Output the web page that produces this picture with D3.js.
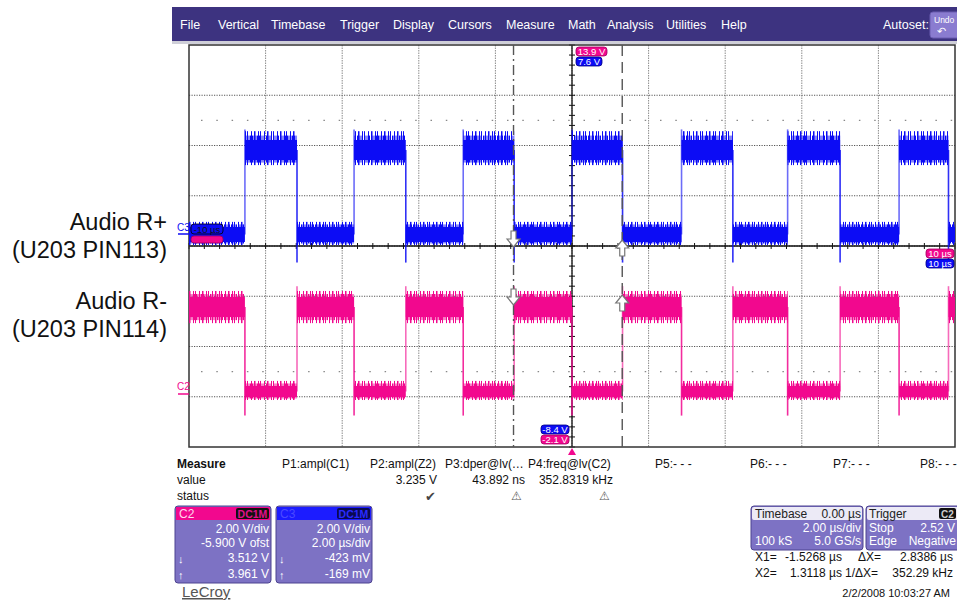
<!DOCTYPE html>
<html><head><meta charset="utf-8">
<script src="https://cdn.jsdelivr.net/npm/d3@7"></script>
<style>
body{margin:0;background:#fff;}
svg{display:block;font-family:"Liberation Sans",Arial,sans-serif;}
</style></head><body>
<svg id="c" width="957" height="601"></svg>
<script>
// ---------------- data ----------------
const menuItems = ["File","Vertical","Timebase","Trigger","Display","Cursors","Measure","Math","Analysis","Utilities","Help"];
const edgeTimes = [-8.54,-7.18,-5.69,-4.34,-2.84,-1.51,0,1.32,2.86,4.20,5.63,7.00,8.54,9.83]; // µs
const c3Levels = [-0.18, 3.18];            // V (low, high)
const c2Levels = [0.11, 3.47];             // V (low, high)
const c3Core = [0.3, 0.4];                 // ± V dense noise
const c2Core = [0.22, 0.4];
const c3Spike = [[-0.42, 0.5], [-0.6, 0.75]];   // spike envelope (V rel. level)
const c2Spike = [[-0.34, 0.42], [-0.64, 0.64]];
const c3Over = [4.0, -1.3];                // edge overshoot (rising, falling) V
const c2Over = [4.3, -0.85];
const c3Offset = -0.64, c2Offset = 5.9;    // V at screen centre
const voltsPerDiv = 2, usPerDiv = 2;
const cursorTimes = [-1.5268, 1.3118];
const measureNames = ["P1:ampl(C1)","P2:ampl(Z2)","P3:dper@lv(…","P4:freq@lv(C2)","P5:- - -","P6:- - -","P7:- - -","P8:- - -"];
const measureValues = ["","3.235 V","43.892 ns","352.8319 kHz","","","",""];
const measureStatus = ["","ok","warn","warn","","","",""];
const c2Box = ["2.00 V/div","-5.900 V ofst","3.512 V","3.961 V"];
const c3Box = ["2.00 V/div","2.00 µs/div","-423 mV","-169 mV"];
const labelsLeft = [["Audio R+","(U203 PIN113)"],["Audio R-","(U203 PIN114)"]];

// ---------------- setup ----------------
const svg = d3.select("#c");
const P = {x0:189, x1:955, y0:45, y1:447};
const x = d3.scaleLinear().domain([-5*usPerDiv, 5*usPerDiv]).range([P.x0, P.x1]);
const yDiv = d3.scaleLinear().domain([-4,4]).range([P.y1, P.y0]);
const yC3 = d3.scaleLinear().domain([c3Offset-4*voltsPerDiv, c3Offset+4*voltsPerDiv]).range([P.y1, P.y0]);
const yC2 = d3.scaleLinear().domain([c2Offset-4*voltsPerDiv, c2Offset+4*voltsPerDiv]).range([P.y1, P.y0]);
const BLUE = "#0c0cf5", PINK = "#f2088e";

const defs = svg.append("defs");
function patterns(id, color){
  const s = defs.append("pattern").attr("id",id+"s").attr("patternUnits","userSpaceOnUse").attr("width",13).attr("height",4);
  [[0,1],[4,1],[7,1.5],[11,1]].forEach(d=>s.append("rect").attr("x",d[0]).attr("y",0).attr("width",d[1]).attr("height",4).attr("fill",color));
  const m = defs.append("pattern").attr("id",id+"m").attr("patternUnits","userSpaceOnUse").attr("width",7).attr("height",4);
  [[0,1.5],[2.5,1],[4.5,1.5]].forEach(d=>m.append("rect").attr("x",d[0]).attr("y",0).attr("width",d[1]).attr("height",4).attr("fill",color));
}
patterns("pb", BLUE); patterns("pp", PINK);

// ---------------- menu bar ----------------
svg.append("rect").attr("x",172).attr("y",7).attr("width",785).attr("height",34).attr("fill","#3d3380");
svg.append("rect").attr("x",172).attr("y",41).attr("width",785).attr("height",3).attr("fill","#cfcfd8");
const menuX = [180,218,271,340,393,448,506,568,607,666,721];
svg.selectAll("text.menu").data(menuItems).enter().append("text")
  .attr("x",(d,i)=>menuX[i]).attr("y",29).attr("fill","#fff").attr("font-size",12.5).text(d=>d);
svg.append("text").attr("x",883).attr("y",29).attr("fill","#fff").attr("font-size",12.5).text("Autoset:");
svg.append("rect").attr("x",930).attr("y",12).attr("width",30).attr("height",26).attr("rx",3).attr("fill","#8a7cd0").attr("stroke","#6a5cb0");
svg.append("text").attr("x",934).attr("y",23).attr("fill","#fff").attr("font-size",8.5).text("Undo");
svg.append("text").attr("x",937).attr("y",35).attr("fill","#fff").attr("font-size",11).text("↶");

// ---------------- left labels ----------------
labelsLeft.forEach((pair,i)=>{
  const base = [230,309][i];
  pair.forEach((t,j)=>svg.append("text").attr("x",167).attr("y",base+j*28).attr("text-anchor","end")
    .attr("font-size",23.5).attr("fill","#111").text(t));
});

// ---------------- grid ----------------
const g = svg.append("g");
g.append("rect").attr("x",P.x0).attr("y",P.y0).attr("width",P.x1-P.x0).attr("height",P.y1-P.y0).attr("fill","#fff");
g.selectAll("line.vg").data(d3.range(-8,9,2)).enter().append("line")
  .attr("x1",d=>x(d)).attr("x2",d=>x(d)).attr("y1",P.y0).attr("y2",P.y1)
  .attr("stroke","#8c8c8c").attr("stroke-dasharray","1.5,1");
g.selectAll("line.hg").data(d3.range(-3,4,1)).enter().append("line")
  .attr("y1",d=>yDiv(d)).attr("y2",d=>yDiv(d)).attr("x1",P.x0).attr("x2",P.x1)
  .attr("stroke","#555").attr("stroke-dasharray","1.2,1.3");
// sparse dotted rows
[2.5,-2.5].forEach(d=>g.append("line").attr("x1",P.x0+12).attr("x2",P.x1).attr("y1",yDiv(d)).attr("y2",yDiv(d))
  .attr("stroke","#888").attr("stroke-width",1.3).attr("stroke-dasharray","1.5,13.8"));
// centre axes
g.append("line").attr("x1",P.x0).attr("x2",P.x1).attr("y1",yDiv(0)).attr("y2",yDiv(0)).attr("stroke","#111").attr("stroke-width",1.3);
g.append("line").attr("x1",x(0)).attr("x2",x(0)).attr("y1",P.y0).attr("y2",P.y1).attr("stroke","#111").attr("stroke-width",1.3);
g.selectAll("line.xt").data(d3.range(-10,10.01,0.4)).enter().append("line")
  .attr("x1",d=>x(d)).attr("x2",d=>x(d)).attr("y1",yDiv(0)-3).attr("y2",yDiv(0)+3).attr("stroke","#111");
g.selectAll("line.yt").data(d3.range(-4,4.01,0.2)).enter().append("line")
  .attr("y1",d=>yDiv(d)).attr("y2",d=>yDiv(d)).attr("x1",x(0)-3).attr("x2",x(0)+3).attr("stroke","#111");
g.append("rect").attr("x",P.x0).attr("y",P.y0).attr("width",P.x1-P.x0).attr("height",P.y1-P.y0)
  .attr("fill","none").attr("stroke","#333").attr("stroke-width",1.5);

// ---------------- traces ----------------
function drawTrace(yS, levels, core, spike, over, startHigh, color, pid){
  const tg = svg.append("g");
  const bounds = [x.domain()[0], ...edgeTimes, x.domain()[1]];
  for(let i=0;i<bounds.length-1;i++){
    const hi = (i%2===0) ? startHigh : !startHigh;
    const k = hi?1:0, v = levels[k];
    const xa = x(bounds[i]), xb = x(bounds[i+1]);
    const band = (lo,up,fill)=>tg.append("rect").attr("x",xa).attr("width",Math.max(0,xb-xa))
      .attr("y",yS(v+up)).attr("height",yS(v+lo)-yS(v+up)).attr("fill",fill);
    band(spike[k][0], spike[k][1], `url(#${pid}s)`);
    band((spike[k][0]-core[k])/2, (spike[k][1]+core[k])/2, `url(#${pid}m)`);
    band(-core[k], core[k], color);
  }
  edgeTimes.forEach((t,i)=>{
    const rising = (i%2===0) ? !startHigh : startHigh;
    const from = levels[rising?0:1], to = rising ? over[0] : over[1];
    tg.append("line").attr("x1",x(t)).attr("x2",x(t)).attr("y1",yS(from)).attr("y2",yS(to))
      .attr("stroke",color).attr("stroke-width",1.6).attr("opacity",rising?0.6:0.85);
  });
}
drawTrace(yC2, c2Levels, c2Core, c2Spike, c2Over, true, PINK, "pp");
drawTrace(yC3, c3Levels, c3Core, c3Spike, c3Over, false, BLUE, "pb");

// ---------------- cursors ----------------
const dashes = ["10,4,2,4","11,6"];
cursorTimes.forEach((t,i)=>{
  svg.append("line").attr("x1",x(t)).attr("x2",x(t)).attr("y1",P.y0).attr("y2",P.y1)
    .attr("stroke","#555").attr("stroke-width",1.4).attr("stroke-dasharray",dashes[i]);
});
function arrow(cx, tip, down){
  const s = down?1:-1;
  const pts = [[-2.5,-16],[2.5,-16],[2.5,-8],[6.5,-8],[0,0],[-6.5,-8],[-2.5,-8]].map(p=>[cx+p[0], tip+s*p[1]]);
  svg.append("path").attr("d","M"+pts.join("L")+"Z").attr("fill","#fff").attr("stroke","#777").attr("stroke-width",1.2);
}
arrow(x(cursorTimes[0]), 247, true);
arrow(x(cursorTimes[0]), 305, true);
arrow(x(cursorTimes[1]), 240, false);
arrow(x(cursorTimes[1]), 295, false);

// ---------------- on-screen badges ----------------
function badge(bx, by, w, h, fill, txt, tcol, stroke){
  svg.append("rect").attr("x",bx).attr("y",by).attr("width",w).attr("height",h).attr("rx",3)
    .attr("fill",fill).attr("stroke",stroke||"#222").attr("stroke-width",0.8);
  if(txt) svg.append("text").attr("x",bx+w/2).attr("y",by+h-1.5).attr("text-anchor","middle").attr("font-size",9.5)
    .attr("fill",tcol).text(txt);
}
badge(576,47,31,9,PINK,"13.9 V","#fff","#a00060");
badge(576,57,26,9,BLUE,"7.6 V","#fff","#000080");
badge(541,425,28,9,BLUE,"-8.4 V","#fff","#000080");
badge(541,435,28,9,PINK,"-2.1 V","#fff","#a00060");
badge(926,249,28,9,PINK,"10 µs","#fff","#a00060");
badge(926,259,28,9,BLUE,"10 µs","#fff","#000080");
badge(191,236,32,7,PINK,"","#fff","#a00060");
badge(191,224,32,10,BLUE,"-10 µs","#111","#000");
svg.append("text").attr("x",177).attr("y",231).attr("font-size",10).attr("fill",BLUE).text("C3");
svg.append("line").attr("x1",178).attr("x2",189).attr("y1",234).attr("y2",234).attr("stroke",BLUE).attr("stroke-width",1.5);
svg.append("text").attr("x",177).attr("y",390).attr("font-size",10).attr("fill",PINK).text("C2");
svg.append("line").attr("x1",178).attr("x2",189).attr("y1",394).attr("y2",394).attr("stroke",PINK).attr("stroke-width",1.5);
svg.append("path").attr("d",`M${x(0)},448L${x(0)+4},455L${x(0)-4},455Z`).attr("fill",PINK);

// ---------------- measure table ----------------
const mX = [282,370,445,528,655,750,833,920];
const mRight = [349,437,525,613];
svg.append("text").attr("x",177).attr("y",468).attr("font-size",12).attr("font-weight","bold").attr("fill","#111").text("Measure");
svg.append("text").attr("x",177).attr("y",484).attr("font-size",12).attr("fill","#111").text("value");
svg.append("text").attr("x",177).attr("y",500).attr("font-size",12).attr("fill","#111").text("status");
measureNames.forEach((n,i)=>svg.append("text").attr("x",mX[i]).attr("y",468).attr("font-size",12).attr("fill","#111").text(n));
measureValues.forEach((v,i)=>{ if(v) svg.append("text").attr("x",mRight[i]).attr("y",484).attr("text-anchor","end").attr("font-size",12).attr("fill","#111").text(v); });
measureStatus.forEach((s,i)=>{
  if(s==="ok") svg.append("text").attr("x",mRight[i]-7).attr("y",501).attr("text-anchor","middle").attr("font-size",13).attr("fill","#444").text("✔");
  if(s==="warn") svg.append("text").attr("x",mRight[i]-9).attr("y",500).attr("text-anchor","middle").attr("font-size",12).attr("fill","#555").text("⚠");
});

// ---------------- channel boxes ----------------
function chanBox(bx, head, name, badgeFill, badgeText, lines){
  svg.append("rect").attr("x",bx).attr("y",506).attr("width",96).attr("height",77).attr("rx",3)
    .attr("fill","#7d72c4").attr("stroke","#4d4390").attr("stroke-width",1);
  svg.append("rect").attr("x",bx+1).attr("y",507).attr("width",94).attr("height",13).attr("fill",head);
  svg.append("text").attr("x",bx+4).attr("y",518).attr("font-size",12).attr("fill",name).text(head===PINK?"C2":"C3");
  svg.append("rect").attr("x",bx+61).attr("y",508).attr("width",33).attr("height",11).attr("rx",2).attr("fill",badgeFill);
  svg.append("text").attr("x",bx+77.5).attr("y",517.5).attr("text-anchor","middle").attr("font-size",10.5).attr("font-weight","bold").attr("fill",badgeText).text("DC1M");
  const ys=[533,547,562,578];
  lines.forEach((t,i)=>svg.append("text").attr("x",bx+94).attr("y",ys[i]).attr("text-anchor","end").attr("font-size",12).attr("fill","#fff").text(t));
  svg.append("text").attr("x",bx+3).attr("y",563).attr("font-size",11).attr("fill","#fff").text("↓");
  svg.append("text").attr("x",bx+3).attr("y",579).attr("font-size",11).attr("fill","#fff").text("↑");
}
chanBox(175, PINK, "#ffd6ec", "#111", "#e0108a", c2Box);
chanBox(276, "#1c1cff", "#4a4aff", "#0a0a50", "#2a2aff", c3Box);
svg.append("text").attr("x",182).attr("y",597).attr("font-size",15).attr("fill","#555").attr("text-decoration","underline").text("LeCroy");

// ---------------- timebase / trigger ----------------
svg.append("rect").attr("x",751).attr("y",506).attr("width",112).attr("height",44).attr("rx",3).attr("fill","#7d72c4").attr("stroke","#4d4390");
svg.append("rect").attr("x",752).attr("y",507).attr("width",110).attr("height",13).attr("rx",2).attr("fill","#eceaf6");
svg.append("rect").attr("x",866).attr("y",506).attr("width",95).attr("height",44).attr("rx",3).attr("fill","#7d72c4").attr("stroke","#4d4390");
svg.append("rect").attr("x",867).attr("y",507).attr("width",94).attr("height",13).attr("rx",2).attr("fill","#eceaf6");
const T = (tx,ty,t,anc,col)=>svg.append("text").attr("x",tx).attr("y",ty).attr("text-anchor",anc||"start").attr("font-size",12).attr("fill",col||"#fff").text(t);
T(755,518,"Timebase","start","#222"); T(861,518,"0.00 µs","end","#222");
T(861,532,"2.00 µs/div","end"); T(755,545,"100 kS"); T(861,545,"5.0 GS/s","end");
T(869,518,"Trigger","start","#222");
svg.append("rect").attr("x",939).attr("y",508).attr("width",17).attr("height",11).attr("rx",2).attr("fill","#111");
svg.append("text").attr("x",941).attr("y",517.5).attr("font-size",10).attr("font-weight","bold").attr("fill","#ccc").text("C2");
T(869,532,"Stop"); T(955,532,"2.52 V","end");
T(869,545,"Edge"); T(956,545,"Negative","end");
T(755,561,"X1=","start","#111"); T(842,561,"-1.5268 µs","end","#111");
T(858,561,"ΔX=","start","#111"); T(953,561,"2.8386 µs","end","#111");
T(755,577,"X2=","start","#111"); T(842,577,"1.3118 µs","end","#111");
T(845,577,"1/ΔX=","start","#111"); T(953,577,"352.29 kHz","end","#111");
svg.append("text").attr("x",950).attr("y",597).attr("text-anchor","end").attr("font-size",11).attr("fill","#111").text("2/2/2008 10:03:27 AM");
</script>
</body></html>
